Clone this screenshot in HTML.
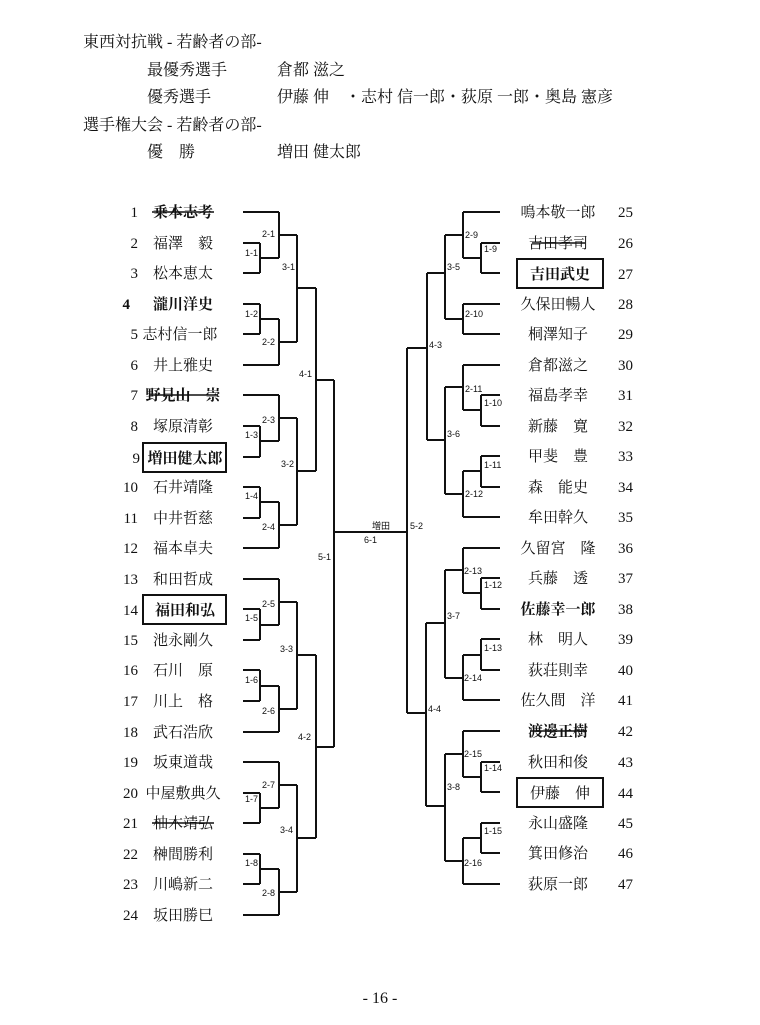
<!DOCTYPE html>
<html><head><meta charset="utf-8">
<style>
html,body{margin:0;padding:0;background:#fff;}
svg{display:block;}
.h{font-family:"Liberation Serif","Noto Serif CJK SC","Noto Sans CJK JP",serif;font-size:16px;fill:#111;}
.n{font-family:"Liberation Serif","Noto Serif CJK SC","Noto Sans CJK JP",serif;font-size:15px;fill:#111;}
.m{font-family:"Liberation Sans",sans-serif;font-size:9px;fill:#111;}
</style></head><body>
<svg width="760" height="1025" viewBox="0 0 760 1025" xmlns="http://www.w3.org/2000/svg">
<rect width="760" height="1025" fill="#fff"/>
<text class="h" x="83" y="47">東西対抗戦 - 若齢者の部-</text>
<text class="h" x="147" y="75">最優秀選手</text><text class="h" x="277" y="75">倉都 滋之</text>
<text class="h" x="147" y="102">優秀選手</text><text class="h" x="277" y="102">伊藤 伸　・志村 信一郎・荻原 一郎・奥島 憲彦</text>
<text class="h" x="83" y="130">選手権大会 - 若齢者の部-</text>
<text class="h" x="147" y="157">優　勝</text><text class="h" x="277" y="157">増田 健太郎</text>

<g fill="none" stroke="#111" stroke-width="2">
<path d="M243 212H279 M243 243H260 M243 273H260 M260 243V273 M260 258H279 M279 212V258 M279 235H297
M243 304H260 M243 334H260 M260 304V334 M260 319H279 M243 365H279 M279 319V365 M279 342H297
M297 235V342 M297 288H316
M243 395H279 M243 426H260 M243 457H260 M260 426V457 M260 441H279 M279 395V441 M279 418H297
M243 487H260 M243 518H260 M260 487V518 M260 502H279 M243 548H279 M279 502V548 M279 525H297
M297 418V525 M297 471H316 M316 288V471 M316 380H334
M243 579H279 M243 609H260 M243 640H260 M260 609V640 M260 625H279 M279 579V625 M279 602H297
M243 670H260 M243 701H260 M260 670V701 M260 686H279 M243 732H279 M279 686V732 M279 709H297
M297 602V709 M297 655H316
M243 762H279 M243 793H260 M243 823H260 M260 793V823 M260 808H279 M279 762V808 M279 785H297
M243 854H260 M243 884H260 M260 854V884 M260 869H279 M243 915H279 M279 869V915 M279 892H297
M297 785V892 M297 838H316 M316 655V838 M316 747H334
M334 380V747 M334 532H407
M500 212H463 M500 243H481 M500 273H481 M481 243V273 M481 258H463 M463 212V258 M463 235H445
M500 304H463 M500 334H463 M463 304V334 M463 319H445 M445 235V319 M445 273H427
M500 365H463 M500 395H481 M500 426H481 M481 395V426 M481 410H463 M463 365V410 M463 387H445
M500 456H481 M500 487H481 M481 456V487 M481 471H463 M500 517H463 M463 471V517 M463 494H445
M445 387V494 M445 440H427 M427 273V440 M427 348H407
M500 548H463 M500 578H481 M500 609H481 M481 578V609 M481 593H463 M463 548V593 M463 570H445
M500 639H481 M500 670H481 M481 639V670 M481 655H463 M500 700H463 M463 655V700 M463 678H445
M445 570V678 M445 623H426
M500 731H463 M500 762H481 M500 792H481 M481 762V792 M481 777H463 M463 731V777 M463 754H445
M500 823H481 M500 853H481 M481 823V853 M481 838H463 M500 884H463 M463 838V884 M463 861H445
M445 754V861 M445 806H426 M426 623V806 M426 713H407 M407 348V713"/>
<rect x="143" y="443" width="83" height="29"/>
<rect x="143" y="595" width="83" height="29"/>
<rect x="517" y="259" width="86" height="29"/>
<rect x="517" y="778" width="86" height="29"/>
</g>

<g class="m">
<text x="262" y="237">2-1</text><text x="245" y="256">1-1</text><text x="282" y="270">3-1</text>
<text x="245" y="317">1-2</text><text x="262" y="345">2-2</text><text x="299" y="377">4-1</text>
<text x="262" y="423">2-3</text><text x="245" y="438">1-3</text><text x="281" y="467">3-2</text>
<text x="245" y="499">1-4</text><text x="262" y="530">2-4</text><text x="318" y="560">5-1</text>
<text x="262" y="607">2-5</text><text x="245" y="621">1-5</text><text x="280" y="652">3-3</text>
<text x="245" y="683">1-6</text><text x="262" y="714">2-6</text><text x="298" y="740">4-2</text>
<text x="262" y="788">2-7</text><text x="245" y="802">1-7</text><text x="280" y="833">3-4</text>
<text x="245" y="866">1-8</text><text x="262" y="896">2-8</text>
<text x="372" y="529">増田</text><text x="364" y="543">6-1</text><text x="410" y="529">5-2</text>
<text x="465" y="238">2-9</text><text x="484" y="252">1-9</text><text x="447" y="270">3-5</text>
<text x="465" y="317">2-10</text><text x="429" y="348">4-3</text><text x="465" y="392">2-11</text>
<text x="484" y="406">1-10</text><text x="447" y="437">3-6</text><text x="484" y="468">1-11</text>
<text x="465" y="497">2-12</text><text x="464" y="574">2-13</text><text x="484" y="588">1-12</text>
<text x="447" y="619">3-7</text><text x="484" y="651">1-13</text><text x="464" y="681">2-14</text>
<text x="428" y="712">4-4</text><text x="464" y="757">2-15</text><text x="484" y="771">1-14</text>
<text x="447" y="790">3-8</text><text x="484" y="834">1-15</text><text x="464" y="866">2-16</text>
</g>

<g class="n">
<text x="138" y="217" text-anchor="end">1</text><text x="183" y="217" text-anchor="middle" font-weight="bold">乗本志考</text>
<text x="138" y="248" text-anchor="end">2</text><text x="183" y="248" text-anchor="middle">福澤　毅</text>
<text x="138" y="278" text-anchor="end">3</text><text x="183" y="278" text-anchor="middle">松本恵太</text>
<text x="130" y="309" text-anchor="end" font-weight="bold">4</text><text x="183" y="309" text-anchor="middle" font-weight="bold">瀧川洋史</text>
<text x="138" y="339" text-anchor="end">5</text><text x="180" y="339" text-anchor="middle">志村信一郎</text>
<text x="138" y="370" text-anchor="end">6</text><text x="183" y="370" text-anchor="middle">井上雅史</text>
<text x="138" y="400" text-anchor="end">7</text><text x="183" y="400" text-anchor="middle" font-weight="bold">野見山　崇</text>
<text x="138" y="431" text-anchor="end">8</text><text x="183" y="431" text-anchor="middle">塚原清彰</text>
<text x="140" y="463" text-anchor="end">9</text><text x="185" y="463" text-anchor="middle" font-weight="bold">増田健太郎</text>
<text x="138" y="492" text-anchor="end">10</text><text x="183" y="492" text-anchor="middle">石井靖隆</text>
<text x="138" y="523" text-anchor="end">11</text><text x="183" y="523" text-anchor="middle">中井哲慈</text>
<text x="138" y="553" text-anchor="end">12</text><text x="183" y="553" text-anchor="middle">福本卓夫</text>
<text x="138" y="584" text-anchor="end">13</text><text x="183" y="584" text-anchor="middle">和田哲成</text>
<text x="138" y="615" text-anchor="end">14</text><text x="185" y="615" text-anchor="middle" font-weight="bold">福田和弘</text>
<text x="138" y="645" text-anchor="end">15</text><text x="183" y="645" text-anchor="middle">池永剛久</text>
<text x="138" y="675" text-anchor="end">16</text><text x="183" y="675" text-anchor="middle">石川　原</text>
<text x="138" y="706" text-anchor="end">17</text><text x="183" y="706" text-anchor="middle">川上　格</text>
<text x="138" y="737" text-anchor="end">18</text><text x="183" y="737" text-anchor="middle">武石浩欣</text>
<text x="138" y="767" text-anchor="end">19</text><text x="183" y="767" text-anchor="middle">坂東道哉</text>
<text x="138" y="798" text-anchor="end">20</text><text x="183" y="798" text-anchor="middle">中屋敷典久</text>
<text x="138" y="828" text-anchor="end">21</text><text x="183" y="828" text-anchor="middle">柚木靖弘</text>
<text x="138" y="859" text-anchor="end">22</text><text x="183" y="859" text-anchor="middle">榊間勝利</text>
<text x="138" y="889" text-anchor="end">23</text><text x="183" y="889" text-anchor="middle">川嶋新二</text>
<text x="138" y="920" text-anchor="end">24</text><text x="183" y="920" text-anchor="middle">坂田勝巳</text>

<text x="558" y="217" text-anchor="middle">鳴本敬一郎</text><text x="618" y="217">25</text>
<text x="558" y="248" text-anchor="middle">吉田孝司</text><text x="618" y="248">26</text>
<text x="560" y="279" text-anchor="middle" font-weight="bold">吉田武史</text><text x="618" y="279">27</text>
<text x="558" y="309" text-anchor="middle">久保田暢人</text><text x="618" y="309">28</text>
<text x="558" y="339" text-anchor="middle">桐澤知子</text><text x="618" y="339">29</text>
<text x="558" y="370" text-anchor="middle">倉都滋之</text><text x="618" y="370">30</text>
<text x="558" y="400" text-anchor="middle">福島孝幸</text><text x="618" y="400">31</text>
<text x="558" y="431" text-anchor="middle">新藤　寛</text><text x="618" y="431">32</text>
<text x="558" y="461" text-anchor="middle">甲斐　豊</text><text x="618" y="461">33</text>
<text x="558" y="492" text-anchor="middle">森　能史</text><text x="618" y="492">34</text>
<text x="558" y="522" text-anchor="middle">牟田幹久</text><text x="618" y="522">35</text>
<text x="558" y="553" text-anchor="middle">久留宮　隆</text><text x="618" y="553">36</text>
<text x="558" y="583" text-anchor="middle">兵藤　透</text><text x="618" y="583">37</text>
<text x="558" y="614" text-anchor="middle" font-weight="bold">佐藤幸一郎</text><text x="618" y="614">38</text>
<text x="558" y="644" text-anchor="middle">林　明人</text><text x="618" y="644">39</text>
<text x="558" y="675" text-anchor="middle">荻荘則幸</text><text x="618" y="675">40</text>
<text x="558" y="705" text-anchor="middle">佐久間　洋</text><text x="618" y="705">41</text>
<text x="558" y="736" text-anchor="middle" font-weight="bold">渡邊正樹</text><text x="618" y="736">42</text>
<text x="558" y="767" text-anchor="middle">秋田和俊</text><text x="618" y="767">43</text>
<text x="560" y="798" text-anchor="middle">伊藤　伸</text><text x="618" y="798">44</text>
<text x="558" y="828" text-anchor="middle">永山盛隆</text><text x="618" y="828">45</text>
<text x="558" y="858" text-anchor="middle">箕田修治</text><text x="618" y="858">46</text>
<text x="558" y="889" text-anchor="middle">荻原一郎</text><text x="618" y="889">47</text>
</g>
<g stroke="#111" stroke-width="1.5">
<line x1="152" y1="212" x2="214" y2="212"/>
<line x1="150" y1="395" x2="218" y2="395"/>
<line x1="152" y1="823" x2="214" y2="823"/>
<line x1="532" y1="243" x2="585" y2="243"/>
<line x1="530" y1="731" x2="587" y2="731"/>
</g>
<text class="h" x="380" y="1003" text-anchor="middle">- 16 -</text>
</svg>
</body></html>
